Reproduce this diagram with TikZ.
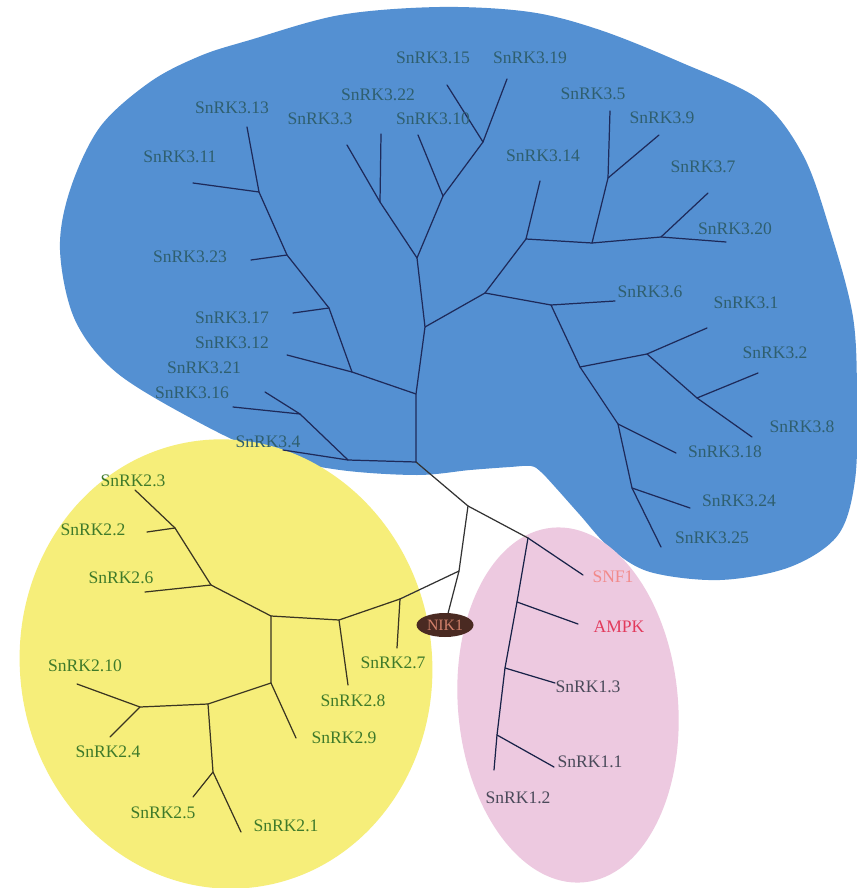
\documentclass[tikz,border=0pt]{standalone}
\usepackage{fontspec}
\setmainfont{Liberation Serif}
\usepackage{xcolor}
\definecolor{snBlue}{HTML}{5490D2}
\definecolor{snYellow}{HTML}{F6EE7A}
\definecolor{snPink}{HTML}{EDC9E0}
\definecolor{snNavy}{HTML}{1E2A5A}
\definecolor{snOlive}{HTML}{3A3522}
\definecolor{snTeal}{HTML}{2F5F6F}
\definecolor{snGreen}{HTML}{3F7A2A}
\definecolor{snGrey}{HTML}{4A4A5A}
\definecolor{snSalmon}{HTML}{F28A8A}
\definecolor{snRed}{HTML}{E23A5C}
\definecolor{nikBrown}{HTML}{4A2A22}
\definecolor{nikText}{HTML}{D0806A}
\usepackage{tikz}
\usetikzlibrary{shapes.geometric}

\begin{document}
\begin{tikzpicture}[x=0.02cm, y=-0.02cm,
    br/.style={line width=0.7pt, line cap=round, line join=round},
    lb/.style={inner sep=0pt, font=\fontsize{10}{12}\selectfont}]
  \useasboundingbox (0,0) rectangle (857,888);
  \fill[white] (0,0) rectangle (857,888);
  % ------- group backgrounds -------
  \fill[snBlue] plot[smooth cycle, tension=0.55] coordinates {
    (250,40) (340,15) (440,7) (530,12) (600,30) (680,62) (760,100) (803,155)
    (830,230) (853,317) (857,400) (855,480) (838,535) (790,567) (720,580)
    (650,572) (610,548) (580,515) (556,488) (541,472) (531,466) (510,467)
    (470,470) (417,475) (340,470) (270,455) (200,423) (117,373) (75,320)
    (60,250) (70,190) (100,127) (150,82) (200,56)};
  \fill[snYellow, rotate around={8:(226,664)}] (226,664) ellipse [x radius=206, y radius=225];
  \fill[snPink, rotate around={5:(568,705)}] (568,705) ellipse [x radius=110, y radius=178];

  % ------- SnRK3 (blue) -------
  \foreach \p/\n in {(259,192)/j13,(287,255)/j23,(329,308)/j17,(352,372)/j12,(416,394)/jA,
      (425,327)/jTop,(380,202)/j3,(417,258)/jUp,(443,196)/j10,(483,142)/j15,(485,293)/jR,
      (526,239)/j14,(592,243)/j5,(608,178)/j9,(661,237)/j7,(551,305)/j6,(580,367)/jS,
      (647,354)/j1,(697,398)/j2,(618,424)/j18,(632,488)/j24,(416,462)/jBot,(348,460)/j4,
      (300,414)/j16}
    \path \p coordinate (\n);
  \foreach \p/\n in {(247,127)/l313,(193,183)/l311,(251,260)/l323,(293,313)/l317,
      (287,355)/l312,(347,145)/l33,(381,134)/l322,(418,135)/l310,(447,85)/l315,
      (507,79)/l319,(540,181)/l314,(610,111)/l35,(659,135)/l39,(708,193)/l37,
      (726,242)/l320,(615,301)/l36,(707,328)/l31,(758,373)/l32,(752,437)/l38,
      (676,453)/l318,(690,508)/l324,(661,547)/l325,(283,450)/l34,(265,392)/l321,
      (233,407)/l316}
    \path \p coordinate (\n);
  \begin{scope}[br, draw=snNavy]
    \draw (l313) -- (j13) -- (j23) -- (j17) -- (j12) -- (jA);
    \draw (l311) -- (j13);
    \draw (l323) -- (j23);
    \draw (l317) -- (j17);
    \draw (l312) -- (j12);
    \draw (jUp) -- (jTop) -- (jA) -- (jBot);
    \draw (l33) -- (j3) -- (jUp) -- (j10) -- (j15) -- (l319);
    \draw (l322) -- (j3);
    \draw (l310) -- (j10);
    \draw (l315) -- (j15);
    \draw (jTop) -- (jR) -- (j14) -- (j5) -- (j7) -- (l320);
    \draw (l314) -- (j14);
    \draw (j5) -- (j9) -- (l35);
    \draw (l39) -- (j9);
    \draw (l37) -- (j7);
    \draw (jR) -- (j6) -- (l36);
    \draw (j6) -- (jS) -- (j18) -- (j24) -- (l325);
    \draw (jS) -- (j1) -- (l31);
    \draw (j1) -- (j2) -- (l38);
    \draw (l32) -- (j2);
    \draw (l318) -- (j18);
    \draw (l324) -- (j24);
    \draw (jBot) -- (j4) -- (l34);
    \draw (j4) -- (j16) -- (l321);
    \draw (l316) -- (j16);
  \end{scope}
  \foreach \p/\n in {(232,108)/13,(180,157)/11,(190,257)/23,(320,119)/3,(378,95)/22,
      (433,58)/15,(433,119)/10,(530,58)/19,(593,94)/5,(662,118)/9,(543,156)/14,
      (703,167)/7,(735,229)/20,(650,292)/6,(746,303)/1,(775,353)/2,(802,427)/8,
      (725,452)/18,(739,501)/24,(712,538)/25,(232,318)/17,(232,343)/12,(204,368)/21,
      (192,393)/16,(268,442)/4}
    \path \p node[lb, text=snTeal] (t3-\n) {SnRK3.\n};

  % ------- root and NIK1 -------
  \coordinate (jC) at (468,506);
  \coordinate (jP) at (528,538);
  \coordinate (jN) at (459,571);
  \coordinate (jY) at (400,599);
  \node[ellipse, fill=nikBrown, text=nikText, inner sep=0pt, minimum width=1.14cm,
    minimum height=0.48cm, font=\fontsize{9}{10}\selectfont] (nik) at (445,625) {NIK1};
  \draw[br, draw=black!80] (jBot) -- (jC) -- (jP);
  \draw[br, draw=black!80] (jC) -- (jN) -- (nik);
  \draw[br, draw=black!80] (jN) -- (jY);

  % ------- SnRK1 (pink) -------
  \foreach \p/\n in {(517,602)/jAM,(505,668)/jK3,(497,735)/jK1,(583,575)/lSNF,
      (578,624)/lAMPK,(555,683)/lK3,(554,767)/lK1,(494,770)/lK2}
    \path \p coordinate (\n);
  \begin{scope}[br, draw=snNavy!80!black]
    \draw (jP) -- (lSNF);
    \draw (jP) -- (jAM) -- (jK3) -- (jK1) -- (lK2);
    \draw (jAM) -- (lAMPK);
    \draw (jK3) -- (lK3);
    \draw (jK1) -- (lK1);
  \end{scope}
  \node[lb, text=snSalmon] (tSNF) at (613,577) {SNF1};
  \node[lb, text=snRed] (tAMPK) at (619,627) {AMPK};
  \foreach \p/\n in {(588,687)/3,(590,762)/1,(518,798)/2}
    \path \p node[lb, text=snGrey] (t1-\n) {SnRK1.\n};

  % ------- SnRK2 (yellow) -------
  \foreach \p/\n in {(339,620)/jY8,(271,616)/jY0,(211,585)/jY6,(175,528)/jY2,
      (271,683)/jY9,(208,704)/jY5,(213,772)/jY1,(140,707)/jY4,(397,648)/l27,
      (348,685)/l28,(145,592)/l26,(147,532)/l22,(135,490)/l23,(296,738)/l29,
      (193,797)/l25,(241,832)/l21,(77,684)/l210,(110,737)/l24}
    \path \p coordinate (\n);
  \begin{scope}[br, draw=snOlive]
    \draw (jY) -- (l27);
    \draw (jY) -- (jY8) -- (jY0) -- (jY6) -- (jY2) -- (l23);
    \draw (l28) -- (jY8);
    \draw (l26) -- (jY6);
    \draw (l22) -- (jY2);
    \draw (jY0) -- (jY9) -- (jY5) -- (jY4) -- (l210);
    \draw (l29) -- (jY9);
    \draw (jY5) -- (jY1) -- (l21);
    \draw (l25) -- (jY1);
    \draw (l24) -- (jY4);
  \end{scope}
  \foreach \p/\n in {(133,481)/3,(93,530)/2,(121,578)/6,(85,666)/10,(393,663)/7,
      (353,701)/8,(344,738)/9,(108,752)/4,(163,813)/5,(286,826)/1}
    \path \p node[lb, text=snGreen] (t2-\n) {SnRK2.\n};
\end{tikzpicture}
\end{document}
